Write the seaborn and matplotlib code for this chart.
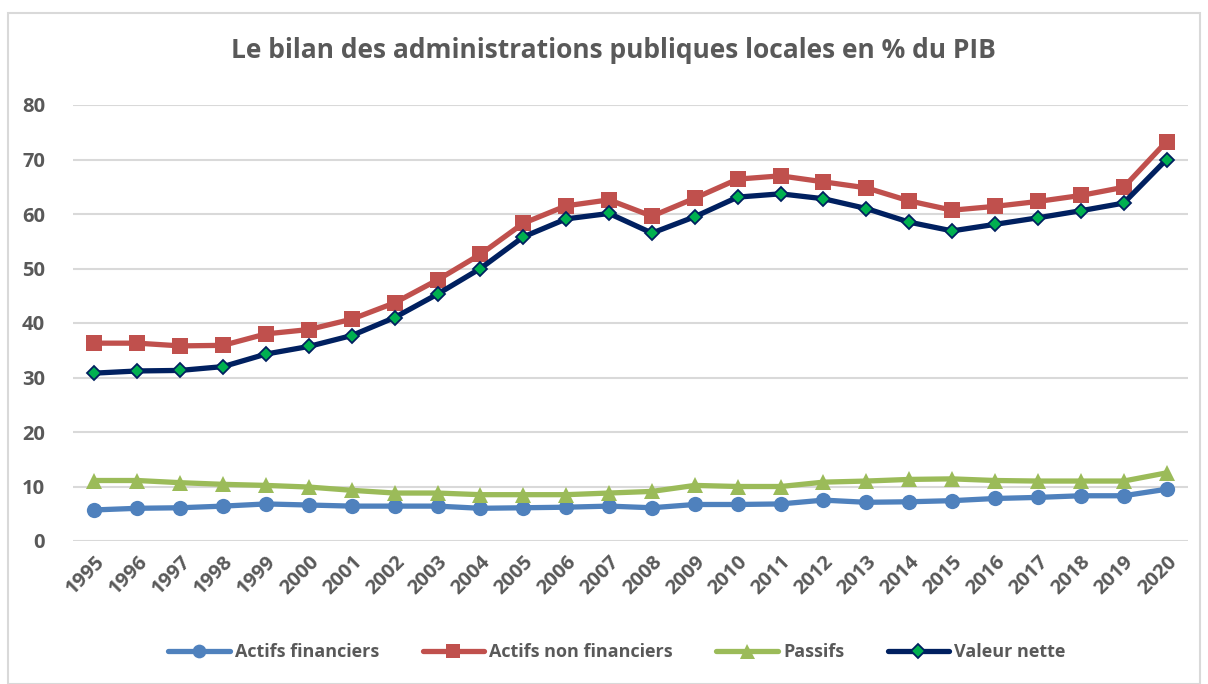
import matplotlib
matplotlib.use("Agg")
import matplotlib.pyplot as plt
import seaborn as sns
import pandas as pd
from matplotlib.lines import Line2D
from matplotlib.patches import Rectangle

years = [str(y) for y in range(1995, 2021)]
actifs_financiers = [5.7, 6.0, 6.1, 6.4, 6.8, 6.6, 6.4, 6.4, 6.4, 6.0, 6.1, 6.2, 6.4,
                     6.1, 6.7, 6.7, 6.8, 7.5, 7.1, 7.2, 7.4, 7.8, 8.0, 8.3, 8.3, 9.5]
actifs_non_financiers = [36.3, 36.3, 35.8, 35.9, 38.0, 38.8, 40.7, 43.7, 47.9, 52.6, 58.3, 61.5, 62.6,
                         59.6, 62.9, 66.4, 67.0, 65.9, 64.8, 62.4, 60.7, 61.4, 62.3, 63.4, 64.9, 73.3]
passifs = [11.1, 11.1, 10.7, 10.4, 10.2, 9.9, 9.3, 8.8, 8.8, 8.5, 8.5, 8.5, 8.8,
           9.1, 10.2, 10.0, 10.0, 10.8, 11.0, 11.3, 11.4, 11.1, 11.0, 11.0, 11.0, 12.5]
valeur_nette = [30.8, 31.2, 31.3, 32.0, 34.3, 35.7, 37.7, 41.0, 45.3, 50.0, 55.8, 59.1, 60.1,
                56.5, 59.5, 63.1, 63.7, 62.8, 61.0, 58.5, 56.9, 58.1, 59.3, 60.6, 62.0, 70.0]
series_names = ["Actifs financiers", "Actifs non financiers", "Passifs", "Valeur nette"]
title = "Le bilan des administrations publiques locales en % du PIB"
yticks = [0, 10, 20, 30, 40, 50, 60, 70, 80]

sns.set_theme(style="white")
plt.rcParams['font.family'] = ['Open Sans', 'DejaVu Sans']

grey = "#595959"
fig = plt.figure(figsize=(12.08, 6.84), dpi=100)
fig.patches.append(Rectangle((8 / 1208, 0.0), 1192 / 1208, 1 - 13 / 684, transform=fig.transFigure,
                             fill=False, edgecolor="#D9D9D9", linewidth=1.5))
ax = fig.add_axes([73 / 1208, 1 - 541 / 684, 1115 / 1208, 436 / 684])

x = list(range(len(years)))
styles = [
    (actifs_financiers, "#4F81BD", "o", 11, "#4F81BD", "#4F81BD", 0),
    (actifs_non_financiers, "#C0504D", "s", 11, "#C0504D", "#C0504D", 0),
    (passifs, "#9BBB59", "^", 12, "#9BBB59", "#9BBB59", 0),
    (valeur_nette, "#002060", "D", 7.5, "#00B050", "#002060", 1.3),
]
handles = []
for (vals, col, mk, ms, mfc, mec, mew), name in zip(styles, series_names):
    df = pd.DataFrame({"x": x, "y": vals})
    sns.lineplot(data=df, x="x", y="y", ax=ax, color=col, linewidth=3.8, marker=mk,
                 markersize=ms, markerfacecolor=mfc, markeredgecolor=mec, markeredgewidth=mew,
                 zorder=3)
    handles.append(Line2D([0], [0], color=col, linewidth=3.8, marker=mk, markersize=ms * 0.9,
                          markerfacecolor=mfc, markeredgecolor=mec, markeredgewidth=mew))

ax.set_xlim(-0.5, len(years) - 0.5)
ax.set_ylim(0, 80)
ax.set_yticks(yticks)
ax.set_yticklabels([str(v) for v in yticks], fontsize=14.5, fontweight="bold", color=grey)
ax.set_xticks(x)
ax.set_xticklabels(years, rotation=45, ha="right", rotation_mode="anchor",
                   fontsize=14.5, fontweight="bold", color=grey)
ax.tick_params(axis="both", length=0)
ax.tick_params(axis="y", pad=20)
ax.tick_params(axis="x", pad=8)
ax.set_xlabel("")
ax.set_ylabel("")
ax.grid(axis="y", color="#D9D9D9", linewidth=1.5)
ax.grid(axis="x", visible=False)
for s in ax.spines.values():
    s.set_visible(False)

fig.text(613 / 1208, 1 - 50 / 684, title, ha="center", va="center", fontsize=19,
         fontweight="bold", color=grey)
fig.legend(handles, series_names, loc="center", bbox_to_anchor=(617 / 1208, 1 - 652 / 684),
           ncol=4, frameon=False, handlelength=3.4, columnspacing=2.4, handletextpad=0.3,
           prop={"size": 13, "weight": "bold"}, labelcolor=grey)

fig.savefig("out.png", dpi=100)
